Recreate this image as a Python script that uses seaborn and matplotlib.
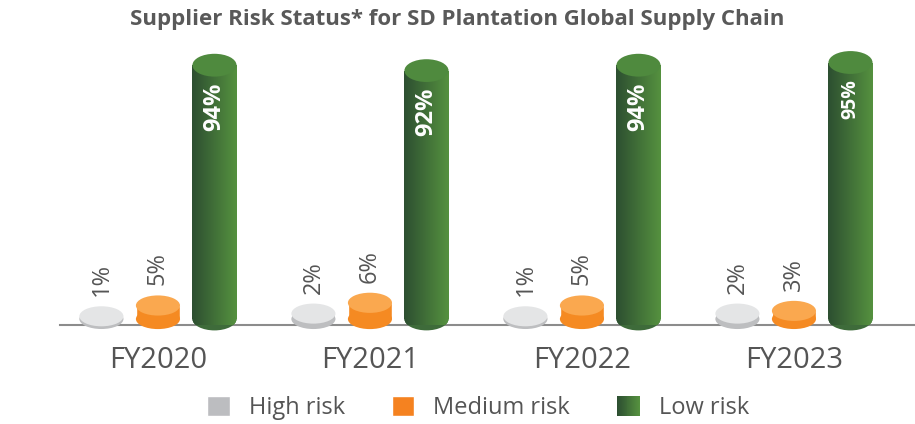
import numpy as np
import pandas as pd
import seaborn as sns
import matplotlib.pyplot as plt
from matplotlib.patches import Ellipse, Rectangle
from matplotlib.legend_handler import HandlerBase
from matplotlib.colors import to_rgb

# ---- data ----
years = ["FY2020", "FY2021", "FY2022", "FY2023"]
series_names = ["High risk", "Medium risk", "Low risk"]
high_risk = [1, 2, 1, 2]
medium_risk = [5, 6, 5, 3]
low_risk = [94, 92, 94, 95]

df = pd.DataFrame({
    "year": years * 3,
    "risk": np.repeat(series_names, len(years)),
    "share": high_risk + medium_risk + low_risk,
})

# ---- style ----
sns.set_style("white")
plt.rcParams["font.family"] = ["Open Sans", "DejaVu Sans"]
TEXT = "#555555"
side_colors = {"High risk": "#BDBEC0", "Medium risk": "#F58A22", "Low risk": "#3E6B3A"}
top_colors = {"High risk": "#E4E5E6", "Medium risk": "#FAA84F", "Low risk": "#4F8A3E"}
green_dark = "#2D4F31"
green_light = "#55913F"

fig = plt.figure(figsize=(9.15, 4.24), dpi=100)
ax = fig.add_axes([60 / 915, 99 / 424, 855 / 915, 285 / 424])

sns.barplot(data=df, x="year", y="share", hue="risk", order=years,
            hue_order=series_names, palette=side_colors, saturation=1,
            width=0.8, gap=0.22, legend=False, ax=ax, zorder=3)

PX = 2.7          # pixels per percentage point
ZERO_PX = 6       # distance of the zero level above the baseline, pixels
YLIM = (-ZERO_PX / PX, (285 - ZERO_PX) / PX)
XLIM = (-0.462, 3.571)

grad = np.linspace(0, 1, 64).reshape(1, -1)
cmap_green = sns.blend_palette([green_dark, green_light], as_cmap=True)

for name, cont in zip(series_names, ax.containers):
    for bar in cont:
        x0, w, h = bar.get_x(), bar.get_width(), bar.get_height()
        xc = x0 + w / 2
        eh = (20 + 0.03 * h) / PX
        bar.set_clip_on(False)
        bottom = Ellipse((xc, 0), w, eh, facecolor=side_colors[name],
                         edgecolor="none", zorder=3, clip_on=False)
        ax.add_patch(bottom)
        if name == "Low risk":
            bar.set_facecolor("none")
            for clip in (bar, bottom):
                im = ax.imshow(grad, cmap=cmap_green, aspect="auto",
                               extent=[x0, x0 + w, -eh, h], zorder=3.5,
                               interpolation="bilinear")
                im.set_clip_box(None)
                im.set_clip_path(clip)
        top = Ellipse((xc, h), w, eh, facecolor=top_colors[name],
                      edgecolor="none", zorder=4, clip_on=False)
        ax.add_patch(top)
        if name == "Low risk":
            size = 14 if h >= 95 else 17
            ax.text(xc, h - 17 / PX, f"{h:.0f}%", rotation=90, ha="center",
                    va="top", color="white", fontsize=size, fontweight="bold",
                    zorder=5)
        else:
            ax.text(xc, h + eh / 2 + 10 / PX, f"{h:.0f}%", rotation=90,
                    ha="center", va="bottom", color=TEXT, fontsize=17, zorder=5)

ax.set_xlim(*XLIM)
ax.set_ylim(*YLIM)
ax.set_xlabel("")
ax.set_ylabel("")
ax.set_yticks([])
ax.tick_params(axis="x", length=0, pad=15, labelsize=21, labelcolor=TEXT)
for s in ("left", "right", "top"):
    ax.spines[s].set_visible(False)
ax.spines["bottom"].set_color("#8C8C8C")
ax.spines["bottom"].set_linewidth(1.5)
ax.spines["bottom"].set_zorder(2)

fig.text(0.5, 1 - 20 / 424, "Supplier Risk Status* for SD Plantation Global Supply Chain",
         ha="center", va="center", fontsize=16, fontweight="bold", color="#595959")


class GradientHandler(HandlerBase):
    def __init__(self, c0, c1, n=24):
        super().__init__()
        self.c0, self.c1, self.n = np.array(to_rgb(c0)), np.array(to_rgb(c1)), n

    def create_artists(self, legend, orig_handle, xdescent, ydescent,
                       width, height, fontsize, trans):
        arts = []
        for i in range(self.n):
            col = self.c0 + (self.c1 - self.c0) * i / (self.n - 1)
            arts.append(Rectangle((-xdescent + width * i / self.n, -ydescent),
                                  width / self.n * 1.05, height, facecolor=col,
                                  edgecolor="none", transform=trans))
        return arts


handles = [Rectangle((0, 0), 1, 1, facecolor="#BCBDC0"),
           Rectangle((0, 0), 1, 1, facecolor="#F58220"),
           Rectangle((0, 0), 1, 1, facecolor=green_light)]
fig.legend(handles, series_names, loc="center",
           bbox_to_anchor=(478 / 915, 1 - 408 / 424), ncol=3, frameon=False,
           fontsize=17, labelcolor=TEXT, handlelength=0.95, handleheight=0.95,
           handletextpad=0.8, columnspacing=2.0,
           handler_map={handles[2]: GradientHandler(green_dark, green_light)})

fig.savefig("out.png", dpi=100)
